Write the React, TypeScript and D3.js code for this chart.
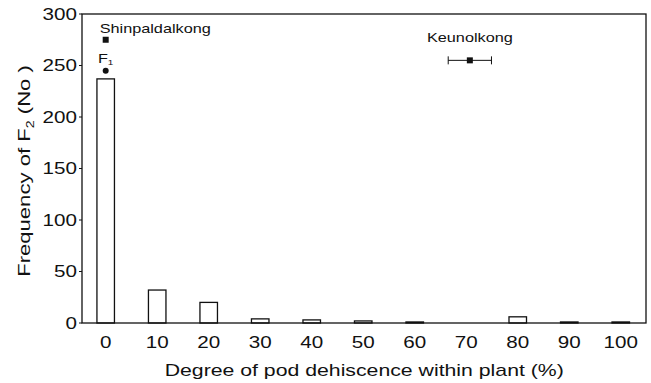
import React from "react";
import * as d3 from "d3";

const categories = [0, 10, 20, 30, 40, 50, 60, 70, 80, 90, 100];
const frequencies = [237, 32, 20, 4, 3, 2, 1, 0, 6, 1, 1];
const yTicks = [0, 50, 100, 150, 200, 250, 300];

const parentNames = ["Shinpaldalkong", "Keunolkong"];
const parentX = [0, 70.7];
const parentY = [275, 255];
const parentErr = [0, 4.2];
const f1X = [0];
const f1Y = [245];

const W = 651;
const H = 383;
const M = { left: 82, right: 646, top: 14, bottom: 323 };
const FONT = "Liberation Sans, Arial, Helvetica, sans-serif";
const SX = 1.25;

function T({ x, y, size, anchor = "start", dy, children, rotate = 0, sx = SX }: any) {
  return (
    <text
      transform={`translate(${x},${y}) rotate(${rotate}) scale(${sx},1)`}
      textAnchor={anchor}
      fontSize={size}
      dy={dy}
      fill="#111"
    >
      {children}
    </text>
  );
}

export default function App() {
  const x = d3.scaleLinear().domain([-4.6, 104.9]).range([M.left, M.right]);
  const y = d3.scaleLinear().domain([0, 300]).range([M.bottom, M.top]);
  const barW = x(3.4) - x(0);

  return (
    <svg
      width={W}
      height={H}
      style={{ position: "absolute", left: 0, top: 0, background: "#fff" }}
      fontFamily={FONT}
    >
      <rect x={0} y={0} width={W} height={H} fill="#fff" />
      {categories.map((c, i) => (
        <rect
          key={c}
          x={x(c) - barW / 2}
          y={y(frequencies[i])}
          width={barW}
          height={y(0) - y(frequencies[i])}
          fill="#fff"
          stroke="#111"
          strokeWidth={1.3}
        />
      ))}
      <rect
        x={M.left}
        y={M.top}
        width={M.right - M.left}
        height={M.bottom - M.top}
        fill="none"
        stroke="#111"
        strokeWidth={1.3}
      />
      {yTicks.map((t) => (
        <g key={t}>
          <line x1={M.left - 3} x2={M.left} y1={y(t)} y2={y(t)} stroke="#111" />
          <T x={M.left - 5} y={y(t)} dy="0.36em" anchor="end" size={16.5}>
            {t}
          </T>
        </g>
      ))}
      {categories.map((c) => (
        <T key={c} x={x(c)} y={M.bottom + 25} anchor="middle" size={16.5}>
          {c}
        </T>
      ))}
      <T x={(x(0) + x(100)) / 2 + 1} y={M.bottom + 53} anchor="middle" size={17}>
        Degree of pod dehiscence within plant (%)
      </T>
      <T x={30} y={171} rotate={-90} anchor="middle" size={17} sx={1.3}>
        Frequency of F
        <tspan fontSize={11} dy={4}>2</tspan>
        <tspan dy={-4}> (No )</tspan>
      </T>
      {parentNames.map((n, i) => (
        <g key={n}>
          {parentErr[i] > 0 && (
            <g stroke="#111" strokeWidth={1}>
              <line
                x1={x(parentX[i] - parentErr[i])}
                x2={x(parentX[i] + parentErr[i])}
                y1={y(parentY[i])}
                y2={y(parentY[i])}
              />
              <line
                x1={x(parentX[i] - parentErr[i])}
                x2={x(parentX[i] - parentErr[i])}
                y1={y(parentY[i]) - 4}
                y2={y(parentY[i]) + 4}
              />
              <line
                x1={x(parentX[i] + parentErr[i])}
                x2={x(parentX[i] + parentErr[i])}
                y1={y(parentY[i]) - 4}
                y2={y(parentY[i]) + 4}
              />
            </g>
          )}
          <rect
            x={x(parentX[i]) - 3}
            y={y(parentY[i]) - 3}
            width={6}
            height={6}
            fill="#111"
          />
        </g>
      ))}
      <T x={x(parentX[0]) - 6} y={y(parentY[0]) - 7} size={13}>
        {parentNames[0]}
      </T>
      <T x={x(parentX[1])} y={y(parentY[1]) - 18} anchor="middle" size={13}>
        {parentNames[1]}
      </T>
      {f1X.map((v, i) => (
        <g key={i}>
          <circle cx={x(v)} cy={y(f1Y[i])} r={3} fill="#111" />
          <T x={x(v)} y={y(f1Y[i]) - 8} anchor="middle" size={13}>
            F<tspan fontSize={8} dy={2}>1</tspan>
          </T>
        </g>
      ))}
    </svg>
  );
}
